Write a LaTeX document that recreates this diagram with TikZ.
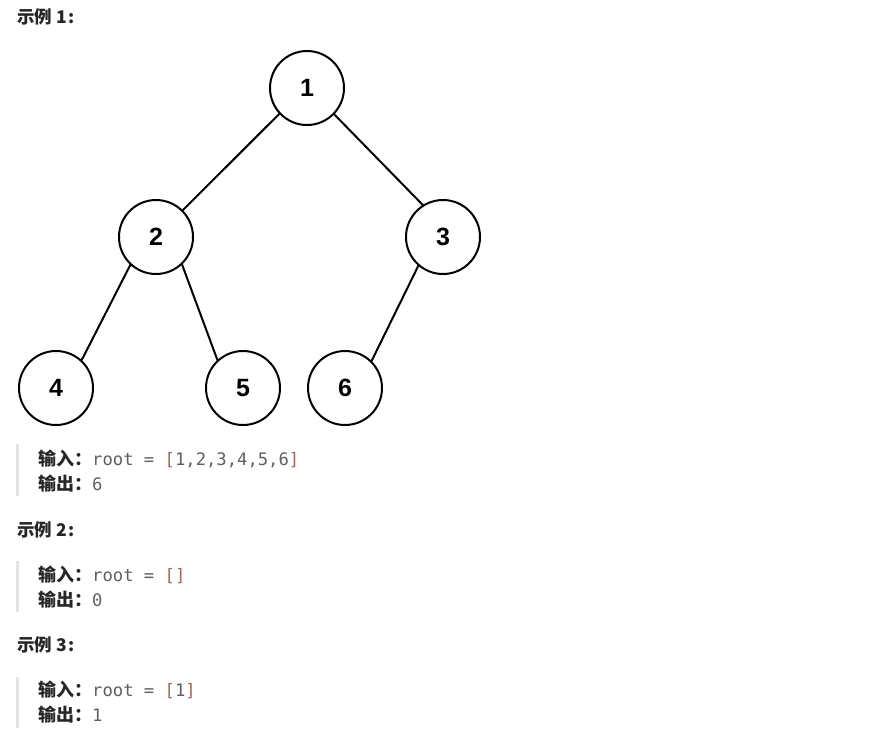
\documentclass[tikz,border=0pt]{standalone}
\usepackage{fontspec}
\setmainfont{Liberation Sans}
\newfontfamily\cjk{Noto Sans CJK SC}
\newfontfamily\codefont{DejaVu Sans Mono}
\definecolor{headc}{HTML}{262626}
\definecolor{codec}{HTML}{5F5F5F}
\definecolor{brk}{HTML}{A0665C}
\definecolor{barc}{HTML}{E3E3E3}
\begin{document}
\begin{tikzpicture}[x=1pt,y=-1pt,
  tn/.style={circle,draw=black,line width=2pt,minimum size=74pt,inner sep=0pt,outer sep=0pt,
    font=\fontsize{25}{25}\selectfont\bfseries},
  edge/.style={line width=2pt,black},
  head/.style={anchor=base west,inner sep=0pt,text=headc,font=\cjk\bfseries\fontsize{17.5}{20}\selectfont},
  lab/.style={anchor=base west,inner sep=0pt,text=headc,font=\cjk\bfseries\fontsize{18}{20}\selectfont},
  code/.style={anchor=base west,inner sep=0pt,text=codec,font=\codefont\fontsize{17.2}{20}\selectfont},
  bar/.style={draw=barc,line width=3pt}]
\useasboundingbox (0,0) rectangle (875,740);
% headings
\node[head] (h1) at (17,23) {示例 1\kern2pt:};
\node[head] (h2) at (17,536) {示例 2\kern2pt:};
\node[head] (h3) at (17,651) {示例 3\kern2pt:};
% tree
\node[tn] (n1) at (307,88) {1};
\node[tn] (n2) at (156,237) {2};
\node[tn] (n3) at (443,237) {3};
\node[tn] (n4) at (56,388) {4};
\node[tn] (n5) at (243,388) {5};
\node[tn] (n6) at (345,388) {6};
\draw[edge] (n1.223) -- (n2.45);
\draw[edge] (n1.316) -- (n3.122);
\draw[edge] (n2.227) -- (n4.47);
\draw[edge] (n2.314) -- (n5.133);
\draw[edge] (n3.229) -- (n6.45);
% example 1 block
\coordinate (b1t) at (17,444);
\coordinate (b1b) at (17,496);
\draw[bar] (b1t) -- (b1b);
\node[lab] (i1) at (38,465) {输入：};
\node[code] (c1) at (92,465) {root = \textcolor{brk}{[}1,2,3,4,5,6\textcolor{brk}{]}};
\node[lab] (o1) at (38,490) {输出：};
\node[code] (r1) at (92,490) {6};
% example 2 block
\coordinate (b2t) at (17,561);
\coordinate (b2b) at (17,612);
\draw[bar] (b2t) -- (b2b);
\node[lab] (i2) at (38,581) {输入：};
\node[code] (c2) at (92,581) {root = \textcolor{brk}{[]}};
\node[lab] (o2) at (38,606) {输出：};
\node[code] (r2) at (92,606) {0};
% example 3 block
\coordinate (b3t) at (17,677);
\coordinate (b3b) at (17,728);
\draw[bar] (b3t) -- (b3b);
\node[lab] (i3) at (38,696) {输入：};
\node[code] (c3) at (92,696) {root = \textcolor{brk}{[}1\textcolor{brk}{]}};
\node[lab] (o3) at (38,721) {输出：};
\node[code] (r3) at (92,721) {1};
\end{tikzpicture}
\end{document}
